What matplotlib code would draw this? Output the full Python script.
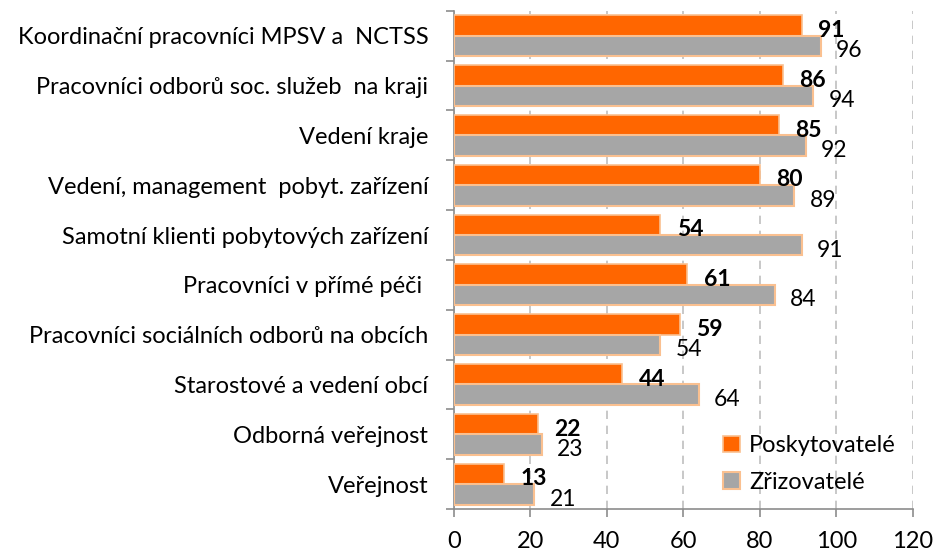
import numpy as np
import matplotlib.pyplot as plt

plt.rcParams['font.family'] = ['Lato', 'DejaVu Sans']

categories = [
    "Koordinační pracovníci MPSV a  NCTSS",
    "Pracovníci odborů soc. služeb  na kraji",
    "Vedení kraje",
    "Vedení, management  pobyt. zařízení",
    "Samotní klienti pobytových zařízení",
    "Pracovníci v přímé péči ",
    "Pracovníci sociálních odborů na obcích",
    "Starostové a vedení obcí",
    "Odborná veřejnost",
    "Veřejnost",
]
poskytovatele = [91, 86, 85, 80, 54, 61, 59, 44, 22, 13]
zrizovatele = [96, 94, 92, 89, 91, 84, 54, 64, 23, 21]

orange = "#FF6600"
grey = "#A6A6A6"
edge = "#FAC090"
axcol = "#8C8C8C"
fs = 17

fig = plt.figure(figsize=(9.38, 5.56), dpi=100)
ax = fig.add_axes([0.484, 0.0845, 0.489, 0.896])

y = np.arange(len(categories))
h = 0.41
ax.barh(y - h / 2, poskytovatele, height=h, color=orange, edgecolor=edge,
        linewidth=1.2, label="Poskytovatelé", zorder=3)
ax.barh(y + h / 2, zrizovatele, height=h, color=grey, edgecolor=edge,
        linewidth=1.5, label="Zřizovatelé", zorder=3)

# data labels: bold for Poskytovatelé, regular for Zřizovatelé
for yi, v in zip(y, poskytovatele):
    ax.text(v + 4.3, yi - h / 2 + 0.23, str(v), ha="left", va="baseline",
            fontsize=16.5, fontweight="bold", color="black", zorder=4)
for yi, v in zip(y, zrizovatele):
    ax.text(v + 4.0, yi + h / 2 + 0.227, str(v), ha="left", va="baseline",
            fontsize=16.5, color="black", zorder=4)

ax.set_xlim(0, 120)
ax.set_ylim(len(categories) - 0.5, -0.5)
ax.set_xticks(np.arange(0, 121, 20))
ax.set_yticks(y)
ax.set_yticklabels(categories, fontsize=fs)
ax.set_yticks(np.arange(-0.5, len(categories), 1), minor=True)
ax.tick_params(axis="y", which="major", length=0, pad=18.5)
ax.tick_params(axis="y", which="minor", length=6, color=axcol, width=1.2)
ax.tick_params(axis="x", length=6, color=axcol, width=1.2, labelsize=fs, pad=10)

ax.grid(axis="x", linestyle=(0, (5, 4)), color="#BFBFBF", linewidth=1.2, zorder=0)
for s in ["top", "right"]:
    ax.spines[s].set_visible(False)
for s in ["left", "bottom"]:
    ax.spines[s].set_color(axcol)
    ax.spines[s].set_linewidth(1.2)

ax.legend(loc="lower right", bbox_to_anchor=(1.01, -0.01), frameon=False,
          fontsize=fs, handlelength=0.7, handleheight=0.7, handletextpad=0.4,
          labelspacing=0.65)

fig.savefig("out.png", dpi=100)
